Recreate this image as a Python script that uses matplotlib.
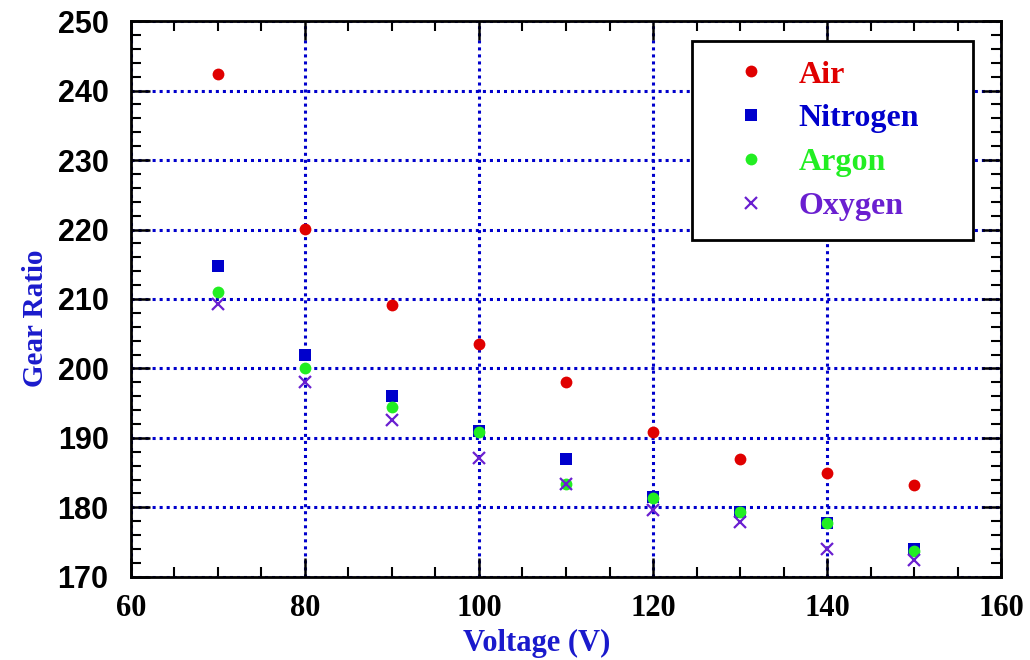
import matplotlib
matplotlib.use("Agg")
import matplotlib.pyplot as plt
from matplotlib.ticker import MultipleLocator

voltage = [70, 80, 90, 100, 110, 120, 130, 140, 150]
air = [242.4, 220.1, 209.1, 203.5, 198.1, 190.9, 187.0, 185.0, 183.2]
nitrogen = [214.7, 201.9, 196.0, 191.0, 187.0, 181.5, 179.4, 177.8, 174.0]
argon = [211.0, 200.1, 194.5, 190.9, 183.4, 181.4, 179.4, 177.8, 173.7]
oxygen = [209.3, 198.1, 192.6, 187.1, 183.4, 179.6, 177.9, 174.0, 172.4]

x_ticks = [60, 80, 100, 120, 140, 160]
y_ticks = [170, 180, 190, 200, 210, 220, 230, 240, 250]

series = [
    ("Air", air, "o", "#e00000", 8.5),
    ("Nitrogen", nitrogen, "s", "#0000cc", 9),
    ("Argon", argon, "o", "#22ee22", 8.5),
    ("Oxygen", oxygen, "x", "#6a1fd0", 8),
]

fig = plt.figure(figsize=(10.3, 6.6), dpi=100)
ax = fig.add_axes([0.127, 0.126, 0.845, 0.842])

for name, vals, m, c, ms in series:
    kw = dict(linestyle="none", marker=m, color=c, markersize=ms, label=name)
    if m == "x":
        kw["markeredgewidth"] = 1.6
    else:
        kw["markeredgewidth"] = 0
    ax.plot(voltage, vals, **kw)

ax.set_xlim(60, 160)
ax.set_ylim(170, 250)
ax.set_xticks(x_ticks)
ax.set_yticks(y_ticks)
ax.xaxis.set_minor_locator(MultipleLocator(5))
ax.yaxis.set_minor_locator(MultipleLocator(2))

ax.grid(True, which="major", color="#0000cc", linestyle=(0, (1, 1.3)), linewidth=2.2)
ax.set_axisbelow(True)

for s in ax.spines.values():
    s.set_linewidth(2.0)
    s.set_color("black")

ax.tick_params(which="major", direction="in", length=14, width=1.8, top=True, right=True)
ax.tick_params(which="minor", direction="in", length=7, width=1.5, top=True, right=True)
ax.tick_params(axis="y", pad=16)
ax.tick_params(axis="x", pad=12)

for lab in ax.get_yticklabels():
    lab.set_fontfamily("Liberation Sans")
    lab.set_fontweight("bold")
    lab.set_fontsize(22)
for lab in ax.get_xticklabels():
    lab.set_fontfamily("Liberation Serif")
    lab.set_fontweight("bold")
    lab.set_fontsize(22)

ax.set_xlabel("Voltage (V)", fontfamily="Liberation Serif", fontweight="bold",
              fontsize=22, color="#1a1acc")
ax.set_ylabel("Gear Ratio", fontfamily="Liberation Serif", fontweight="bold",
              fontsize=21, color="#1a1acc")
ax.xaxis.set_label_coords(0.466, -0.119)
ax.yaxis.set_label_coords(-0.110, 0.466)
ax.xaxis.label.set_va("center")
ax.yaxis.label.set_va("center")

leg = ax.legend(loc="upper left", bbox_to_anchor=(0.645, 0.613, 0.323, 0.351),
                mode="expand",
                prop={"family": "Liberation Serif", "weight": "bold", "size": 23},
                frameon=True, fancybox=False, borderpad=0.6, labelspacing=0.45,
                handletextpad=0.27, handlelength=2.46, borderaxespad=0,
                markerscale=1.0)
leg.get_frame().set_edgecolor("black")
leg.get_frame().set_linewidth(2.0)
leg.get_frame().set_alpha(1.0)
for txt, (_, _, _, c, _) in zip(leg.get_texts(), series):
    txt.set_color(c)

fig.savefig("out.png", dpi=100)
